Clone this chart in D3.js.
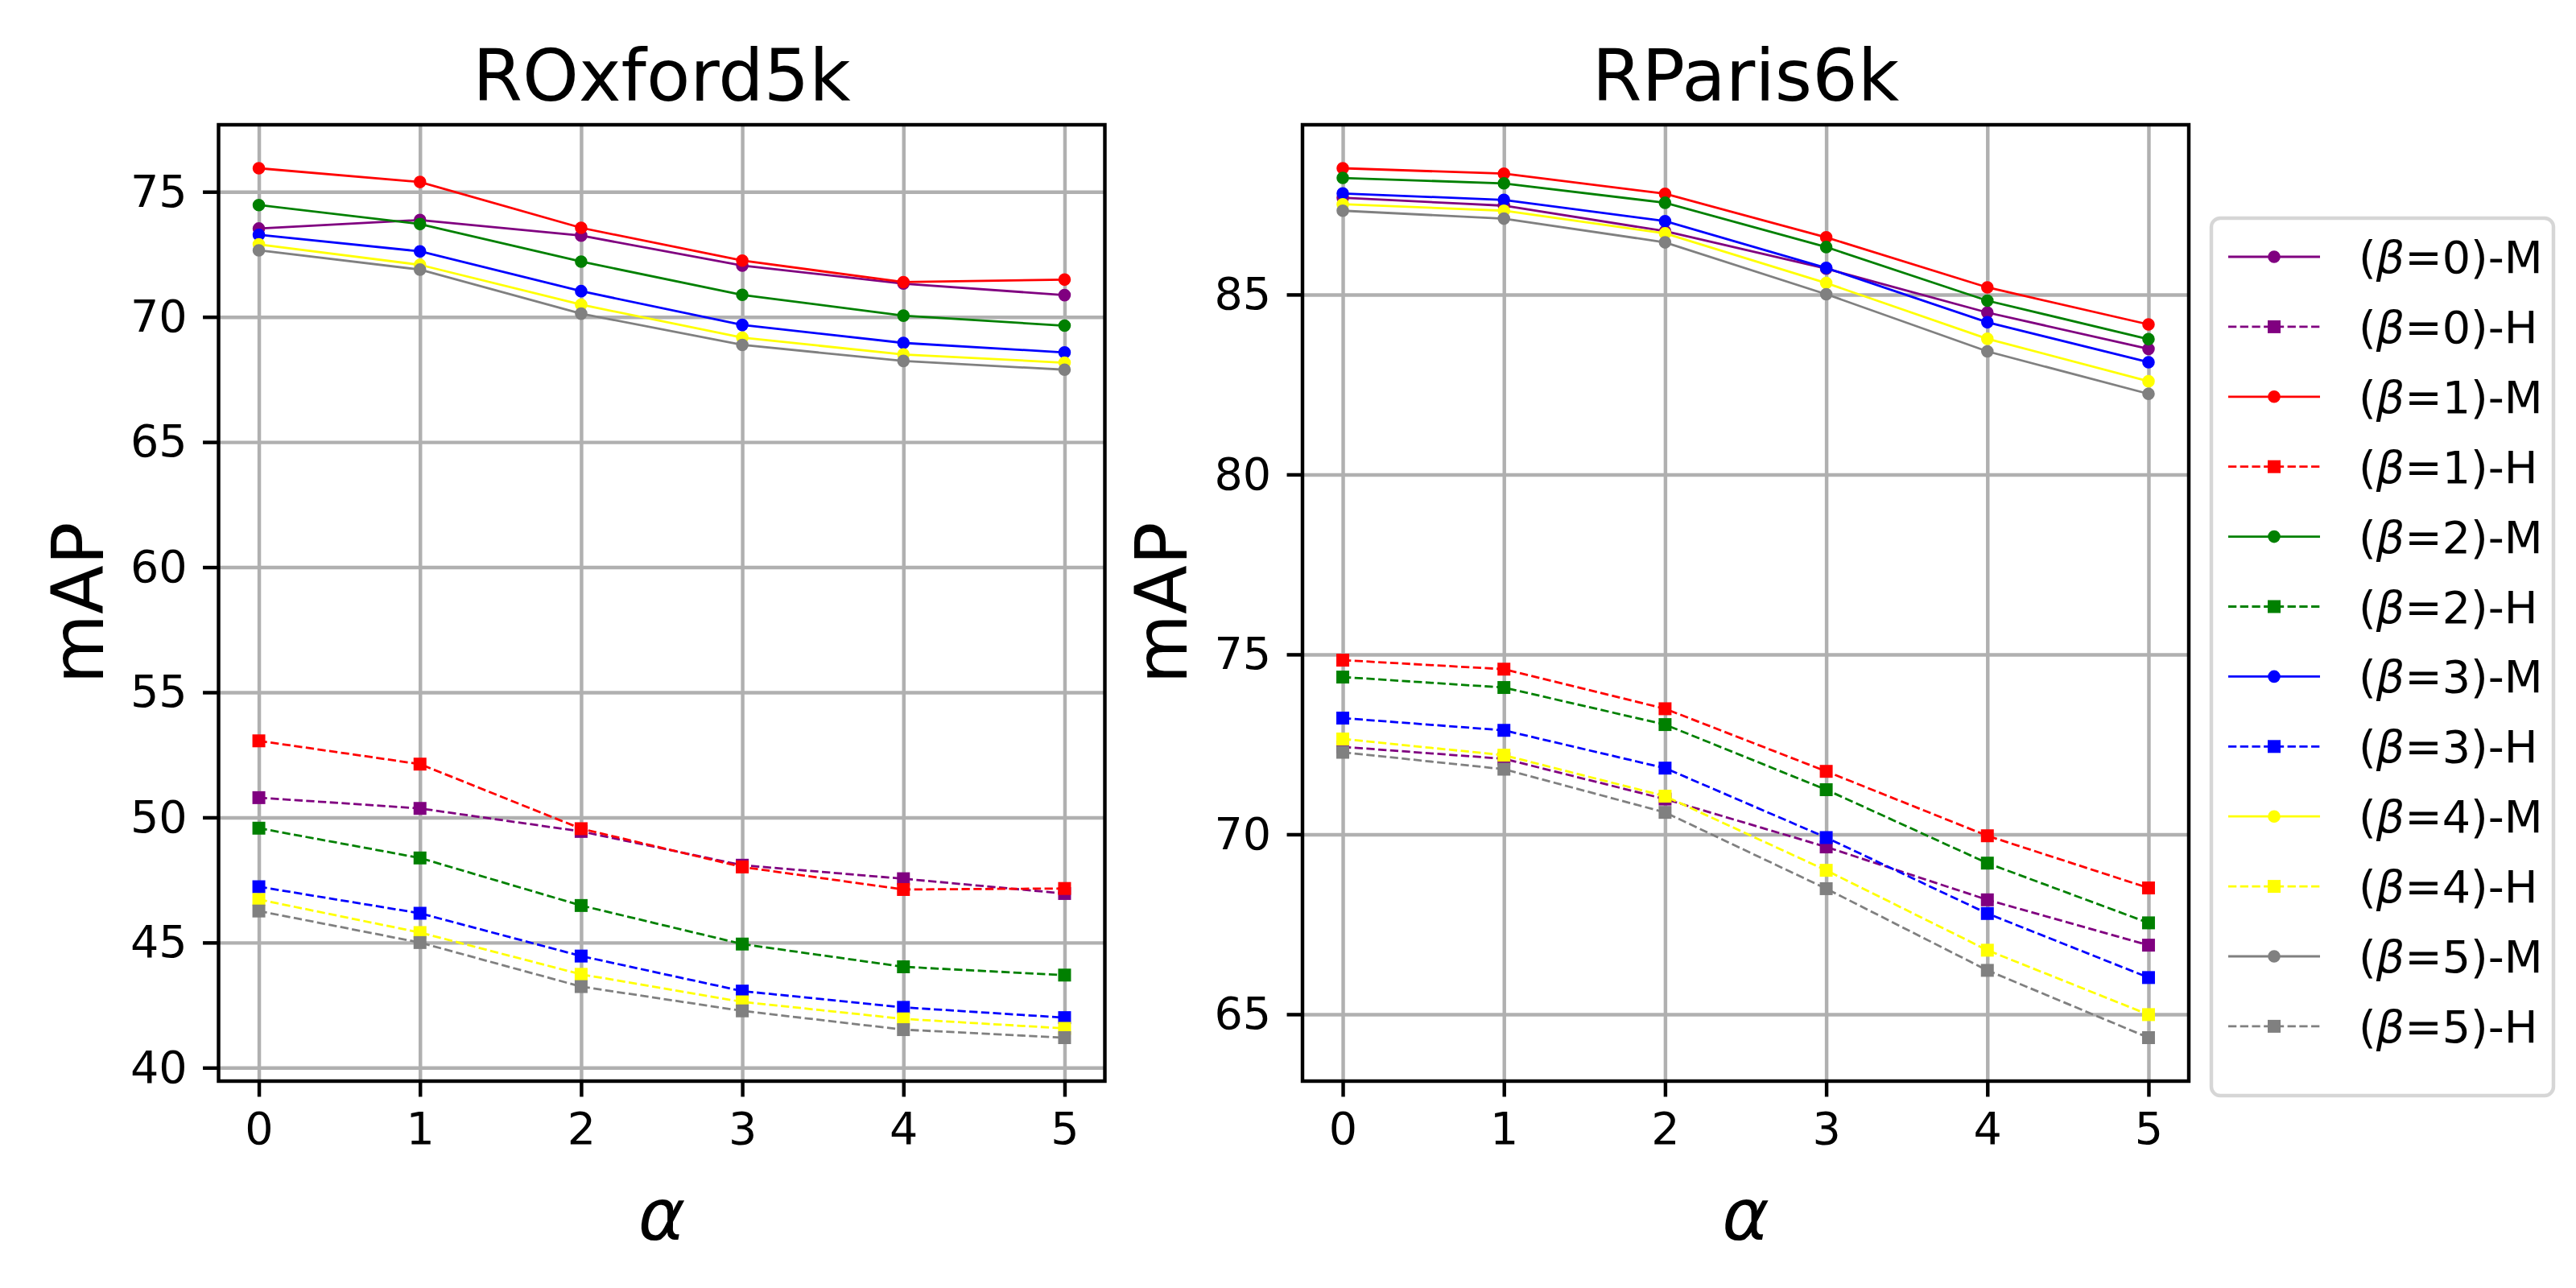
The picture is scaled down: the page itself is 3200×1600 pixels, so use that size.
<!DOCTYPE html>
<html>
<head>
<meta charset="utf-8">
<script src="https://cdn.jsdelivr.net/npm/d3@7"></script>
<style>
  body { margin: 0; background: #fff; }
  text { font-family: "DejaVu Sans", sans-serif; }
</style>
</head>
<body>
<svg id="chart"></svg>
<script>
const alphas = [0, 1, 2, 3, 4, 5];
const betas = [0, 1, 2, 3, 4, 5];
const betaColors = ["purple", "red", "green", "blue", "yellow", "gray"];

// ROxford5k, one row per beta, one value per alpha
const oxfordM = [
  [73.53, 73.87, 73.25, 72.05, 71.33, 70.87],
  [75.94, 75.39, 73.56, 72.25, 71.39, 71.49],
  [74.47, 73.71, 72.21, 70.88, 70.05, 69.65],
  [73.28, 72.62, 71.03, 69.68, 68.96, 68.58],
  [72.90, 72.08, 70.49, 69.17, 68.50, 68.17],
  [72.66, 71.89, 70.13, 68.88, 68.24, 67.89],
];
const oxfordH = [
  [50.79, 50.36, 49.44, 48.09, 47.55, 46.96],
  [53.06, 52.13, 49.55, 48.02, 47.12, 47.16],
  [49.57, 48.38, 46.48, 44.94, 44.03, 43.70],
  [47.23, 46.17, 44.46, 43.06, 42.41, 42.00],
  [46.72, 45.40, 43.73, 42.63, 41.95, 41.57],
  [46.26, 45.00, 43.24, 42.27, 41.52, 41.20],
];

// RParis6k
const parisM = [
  [87.69, 87.47, 86.76, 85.72, 84.50, 83.49],
  [88.51, 88.36, 87.80, 86.59, 85.20, 84.17],
  [88.24, 88.09, 87.55, 86.32, 84.83, 83.76],
  [87.81, 87.63, 87.04, 85.74, 84.23, 83.12],
  [87.51, 87.33, 86.70, 85.32, 83.77, 82.59],
  [87.33, 87.11, 86.45, 85.01, 83.42, 82.24],
];
const parisH = [
  [72.43, 72.10, 70.98, 69.65, 68.18, 66.92],
  [74.84, 74.59, 73.49, 71.75, 69.96, 68.51],
  [74.37, 74.08, 73.05, 71.24, 69.20, 67.54],
  [73.23, 72.89, 71.84, 69.91, 67.80, 66.02],
  [72.65, 72.20, 71.06, 69.00, 66.78, 64.99],
  [72.28, 71.81, 70.61, 68.49, 66.22, 64.35],
];

const oxfordTicks = [40, 45, 50, 55, 60, 65, 70, 75];
const parisTicks = [65, 70, 75, 80, 85];

const width = 3200;
const height = 1600;
const pt = 400 / 72; // figure was saved at 400 dpi
const plotTop = 155;
const plotBottom = 1343;
const plotW = 1101;

const svg = d3
  .select("#chart")
  .attr("width", width)
  .attr("height", height)
  .attr("viewBox", `0 0 ${width} ${height}`);

svg.append("rect").attr("width", width).attr("height", height).attr("fill", "#fff");

const panels = [
  { title: "ROxford5k", left: 271.5, M: oxfordM, H: oxfordH, ticks: oxfordTicks },
  { title: "RParis6k", left: 1618, M: parisM, H: parisH, ticks: parisTicks },
];

const symbolCircle = d3.symbol().type(d3.symbolCircle).size(Math.PI * 7.8 * 7.8);
const symbolSquare = d3.symbol().type(d3.symbolSquare).size(16 * 16);

panels.forEach((p) => {
  const g = svg.append("g").attr("transform", `translate(${p.left},${plotTop})`);
  const h = plotBottom - plotTop;

  // matplotlib-style 5% margins
  const all = p.M.flat().concat(p.H.flat());
  const [lo, hi] = d3.extent(all);
  const pad = (hi - lo) * 0.05;
  const x = d3.scaleLinear().domain([-0.25, 5.25]).range([0, plotW]);
  const y = d3.scaleLinear().domain([lo - pad, hi + pad]).range([h, 0]);

  // grid
  g.append("g")
    .attr("transform", `translate(0,${h})`)
    .call(d3.axisBottom(x).tickValues(alphas).tickSize(-h).tickFormat(""))
    .call((a) => a.select(".domain").remove())
    .selectAll("line")
    .attr("stroke", "#b0b0b0")
    .attr("stroke-width", 0.8 * pt);
  g.append("g")
    .call(d3.axisLeft(y).tickValues(p.ticks).tickSize(-plotW).tickFormat(""))
    .call((a) => a.select(".domain").remove())
    .selectAll("line")
    .attr("stroke", "#b0b0b0")
    .attr("stroke-width", 0.8 * pt);

  const line = d3
    .line()
    .x((d, i) => x(alphas[i]))
    .y((d) => y(d));

  betas.forEach((b) => {
    const col = betaColors[b];
    [
      { vals: p.M[b], dash: null, sym: symbolCircle },
      { vals: p.H[b], dash: `${1.85 * pt},${0.8 * pt}`, sym: symbolSquare },
    ].forEach((s) => {
      g.append("path")
        .attr("d", line(s.vals))
        .attr("fill", "none")
        .attr("stroke", col)
        .attr("stroke-width", 0.5 * pt)
        .attr("stroke-dasharray", s.dash);
      g.selectAll(null)
        .data(s.vals)
        .join("path")
        .attr("d", s.sym)
        .attr("transform", (d, i) => `translate(${x(alphas[i])},${y(d)})`)
        .attr("fill", col);
    });
  });

  // axes
  const ax = g
    .append("g")
    .attr("transform", `translate(0,${h})`)
    .call(
      d3.axisBottom(x)
        .tickValues(alphas)
        .tickFormat(d3.format("d"))
        .tickSize(3.5 * pt)
        .tickPadding(3.5 * pt)
    );
  const ay = g
    .append("g")
    .call(
      d3.axisLeft(y)
        .tickValues(p.ticks)
        .tickFormat(d3.format("d"))
        .tickSize(3.5 * pt)
        .tickPadding(3.5 * pt)
    );
  [ax, ay].forEach((a) => {
    a.select(".domain").remove();
    a.selectAll("line").attr("stroke", "#000").attr("stroke-width", 0.8 * pt);
    a.selectAll("text")
      .attr("font-size", 10 * pt)
      .attr("fill", "#000")
      .style("font-family", '"DejaVu Sans", sans-serif');
  });

  g.append("rect")
    .attr("width", plotW)
    .attr("height", h)
    .attr("fill", "none")
    .attr("stroke", "#000")
    .attr("stroke-width", 0.8 * pt);

  svg.append("text")
    .attr("x", p.left + plotW / 2)
    .attr("y", 125)
    .attr("text-anchor", "middle")
    .attr("font-size", 16 * pt)
    .text(p.title);

  svg.append("text")
    .attr("x", p.left + plotW / 2)
    .attr("y", 1540)
    .attr("text-anchor", "middle")
    .attr("font-size", 16 * pt)
    .attr("font-style", "italic")
    .text("α");

  svg.append("text")
    .attr("transform", `translate(${p.left - 144},${(plotTop + plotBottom) / 2}) rotate(-90)`)
    .attr("text-anchor", "middle")
    .attr("font-size", 16 * pt)
    .text("mAP");
});

// legend
const legend = svg.append("g");
legend.append("rect")
  .attr("x", 2747)
  .attr("y", 271)
  .attr("width", 425)
  .attr("height", 1090)
  .attr("rx", 11)
  .attr("fill", "#fff")
  .attr("fill-opacity", 0.8)
  .attr("stroke", "#cccccc")
  .attr("stroke-opacity", 0.8)
  .attr("stroke-width", 0.8 * pt);

const entries = betas.flatMap((b) => [
  { b, kind: "M" },
  { b, kind: "H" },
]);

entries.forEach((e, i) => {
  const yy = 319 + i * 86.9;
  const col = betaColors[e.b];
  legend.append("line")
    .attr("x1", 2768)
    .attr("x2", 2882)
    .attr("y1", yy)
    .attr("y2", yy)
    .attr("stroke", col)
    .attr("stroke-width", 0.5 * pt)
    .attr("stroke-dasharray", e.kind === "H" ? `${1.85 * pt},${0.8 * pt}` : null);
  legend.append("path")
    .attr("d", e.kind === "M" ? symbolCircle : symbolSquare)
    .attr("transform", `translate(2825,${yy})`)
    .attr("fill", col);
  const t = legend.append("text")
    .attr("x", 2930)
    .attr("y", yy)
    .attr("dy", "0.36em")
    .attr("font-size", 10 * pt);
  t.append("tspan").text("(");
  t.append("tspan").attr("font-style", "italic").text("β");
  t.append("tspan").text(`=${e.b})-${e.kind}`);
});
</script>
</body>
</html>
